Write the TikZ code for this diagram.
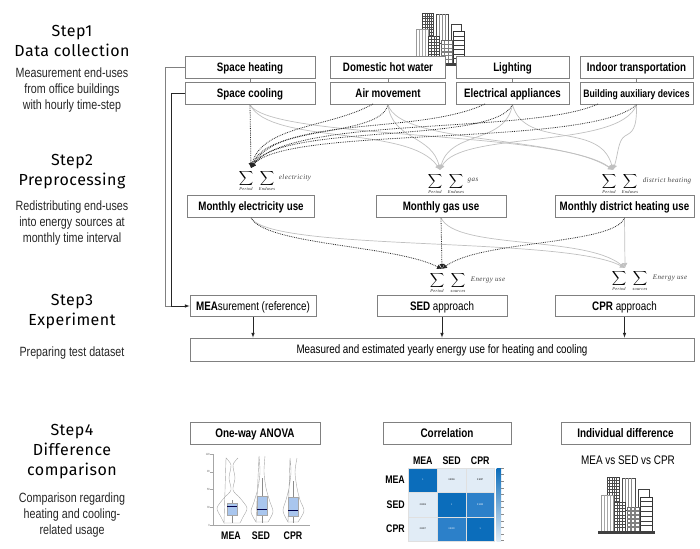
\documentclass[tikz,border=0pt]{standalone}
\usetikzlibrary{arrows.meta}
\usepackage{fontspec}
\setmainfont[FakeStretch=0.8]{Liberation Sans}
\newfontfamily\stepfont[LetterSpace=3]{Fira Sans}
\newfontfamily\sumfont[LetterSpace=6]{Liberation Serif}
\definecolor{edgegray}{HTML}{808080}
\definecolor{lightline}{HTML}{C0C0C0}
\definecolor{cellA}{HTML}{0B6DBB}
\definecolor{cellB}{HTML}{E1ECF6}
\definecolor{cellC}{HTML}{2C80C9}
\definecolor{boxblue}{HTML}{A9C6EE}
\tikzset{
  stepbox/.style={draw=edgegray,line width=0.9pt,fill=white,inner sep=0pt,minimum height=21.5pt,text height=8.5pt,text depth=0.5pt},
  headtext/.style={align=center,inner sep=0pt,font=\stepfont\fontsize{16}{20}\selectfont},
  bodytext/.style={align=center,inner sep=0pt,text=black!85,font=\fontsize{13.4}{16}\selectfont},
  darkcurve/.style={densely dotted,line width=0.8pt,black!85,-{Latex[length=5pt,width=5pt]}},
  palecurve/.style={lightline,line width=0.7pt,-{Latex[length=5pt,width=5pt]}},
  plainarrow/.style={black!85,line width=0.6pt,-latex},
  sumsign/.style={inner sep=0pt,font=\fontsize{10}{10}\selectfont},
  sumsmall/.style={inner sep=0pt,text=black!85,font=\sumfont\itshape\fontsize{4.4}{5}\selectfont},
  sumname/.style={inner sep=0pt,text=black!75,font=\sumfont\itshape\fontsize{7}{7}\selectfont},
  violin/.style={draw=black!35,line width=0.4pt},
  cell/.style={inner sep=0pt,minimum width=28.6pt,minimum height=24.4pt,draw=black!12,line width=0.3pt,font=\fontsize{2.5}{3}\selectfont},
  plotlabel/.style={inner sep=0pt,font=\bfseries\fontsize{11}{11}\selectfont},
  city/.pic={
    % back row
    \draw[black!75,fill=white,line width=0.8pt] (9.3,-57) rectangle (21,-32);
    \foreach \i in {1,...,4} {\draw[black!70,line width=0.5pt] (9.3+2.3*\i,-57) -- (9.3+2.3*\i,-32);}
    \foreach \i in {1,...,8} {\draw[black!70,line width=0.5pt] (9.3,-57+3*\i) -- (21,-57+3*\i);}
    \draw[black!70,fill=white,line width=0.8pt] (24,-56) rectangle (37,-24);
    \foreach \i in {1,...,3} {\draw[black!45,line width=0.7pt] (24+3.2*\i,-56) -- (24+3.2*\i,-24);}
    \draw[black!75,fill=white,line width=1pt] (40,-45) rectangle (51,-24);
    % front row
    \draw[black!40,fill=white,line width=0.8pt] (3,-39) rectangle (15,-3);
    \foreach \i in {1,...,3} {\draw[black!35,line width=0.7pt] (3+3*\i,-39) -- (3+3*\i,-3);}
    \draw[black!75,fill=white,line width=0.8pt] (16,-32) rectangle (27,-3);
    \foreach \i in {1,...,3} {\draw[black!70,line width=0.6pt] (16+2.8*\i,-32) -- (16+2.8*\i,-3);}
    \foreach \i in {1,...,8} {\draw[black!70,line width=0.6pt] (16,-32+3.2*\i) -- (27,-32+3.2*\i);}
    \draw[black!60,fill=white,line width=0.8pt] (29,-27) rectangle (41,-3);
    \foreach \i in {1,...,2} {\draw[black!50,line width=1.2pt] (29+4*\i,-27) -- (29+4*\i,-3);}
    \foreach \i in {1,...,5} {\draw[black!50,line width=1.2pt] (29,-27+4*\i) -- (41,-27+4*\i);}
    \draw[black!80,fill=white,line width=0.9pt] (42,-37) rectangle (54,-3);
    \foreach \i in {1,...,6} {\draw[black!75,line width=0.8pt] (42,-37+4.8*\i) -- (54,-37+4.8*\i);}
    \fill[black!75] (0,-3) rectangle (57,0);
  }
}
\begin{document}
\begin{tikzpicture}[x=1pt,y=-1pt]
\useasboundingbox (0,0) rectangle (700,548);
\pic[scale=0.93] (cityTop) at (414,66) {city};
% left column
\node[headtext] (head1) at (72,41) {Step1\\Data collection};
\node[bodytext] (body1) at (72,90) {Measurement end-uses\\from office buildings\\with hourly time-step};
\node[headtext] (head2) at (72,172) {Step2\\Preprocessing};
\node[bodytext] (body2) at (72,223) {Redistributing end-uses\\into energy sources at\\monthly time interval};
\node[headtext] (head3) at (72,312) {Step3\\Experiment};
\node[bodytext] (body3) at (72,353) {Preparing test dataset};
\node[headtext] (head4) at (72,452) {Step4\\Difference\\comparison};
\node[bodytext] (body4) at (72,515) {Comparison regarding\\heating and cooling-\\related usage};
% end-use boxes
\foreach \n/\x/\y/\w/\t in {heat/250/67.5/130/Space heating,cool/250/93.5/130/Space cooling,water/388/67.5/115/Domestic hot water,air/388/93.5/115/Air movement,light/512.5/67.5/113/Lighting,appl/512.5/93.5/113/Electrical appliances,lift/636.5/67.5/113/Indoor transportation,aux/636.5/93.5/113/{\fontsize{10.8}{12}\selectfont Building auxiliary devices}} {
  \node[stepbox,minimum width=\w pt,font=\bfseries\fontsize{12.2}{12}\selectfont] (\n) at (\x,\y) {\t};
}
\foreach \a/\b in {heat/cool,water/air,light/appl,lift/aux} {
  \draw[edgegray,line width=0.5pt] (\a) -- (\b);
}
% monthly boxes
\foreach \n/\x/\w/\t in {melec/251/127/Monthly electricity use,mgas/441/130/Monthly gas use,mdist/624.5/139/Monthly district heating use} {
  \node[stepbox,minimum width=\w pt,font=\bfseries\fontsize{12.2}{12}\selectfont] (\n) at (\x,206.5) {\t};
}
% experiment boxes
\node[stepbox,minimum width=126pt,font=\fontsize{12.3}{12}\selectfont] (mea) at (253,306) {\textbf{MEA}surement (reference)};
\node[stepbox,minimum width=130pt,font=\fontsize{12.3}{12}\selectfont] (sed) at (442,306) {\textbf{SED} approach};
\node[stepbox,minimum width=139pt,font=\fontsize{12.3}{12}\selectfont] (cpr) at (624.5,306) {\textbf{CPR} approach};
\node[stepbox,minimum width=504pt,minimum height=23pt,font=\fontsize{12.3}{12}\selectfont] (yearly) at (442,349.5) {Measured and estimated yearly energy use for heating and cooling};
% sums
\foreach \n/\x/\y/\a/\b/\t/\tx in {sumE/246/178/Period/Enduses/electricity/295,sumG/435/181/Period/Enduses/gas/473,sumD/609/181/Period/Enduses/district heating/667,sumS/437/280/Period/sources/Energy use/488,sumC/619/278/Period/sources/Energy use/670} {
  \node[sumsign] (\n a) at (\x,\y) {$\displaystyle\sum$};
  \node[sumsign] (\n b) at (\x+21,\y) {$\displaystyle\sum$};
  \node[sumsmall] (\n p) at (\x,\y+11) {\a};
  \node[sumsmall] (\n q) at (\x+21,\y+11) {\b};
  \node[sumname] (\n t) at (\tx,\y) {\t};
}
\coordinate (inE) at (251,168);
\coordinate (inG) at (440,170);
\coordinate (inD) at (613,170);
\coordinate (inS) at (442,269);
\coordinate (inC) at (625,268);
\coordinate (airL) at (373,104);
\coordinate (applL) at (485,104);
\coordinate (auxL) at (598,104);
\coordinate (auxK) at (625,136);
% pale curves to gas and district heating
\draw[palecurve] (cool.south) .. controls (270,145) and (410,125) .. (inG);
\draw[palecurve] (air.south) .. controls (392,140) and (432,135) .. (inG);
\draw[palecurve] (appl.south) .. controls (505,145) and (450,130) .. (inG);
\draw[palecurve] (aux.south) .. controls (620,150) and (460,130) .. (inG);
\draw[palecurve] (cool.south) .. controls (270,140) and (560,130) .. (inD);
\draw[palecurve] (air.south) .. controls (400,145) and (560,135) .. (inD);
\draw[palecurve] (appl.south) .. controls (525,150) and (600,120) .. (inD);
\draw[palecurve] (aux.south) .. controls (637,130) and (632,132) .. (auxK) .. controls (618,140) and (618,155) .. (inD);
% dark curves to electricity
\draw[darkcurve] (cool.south) -- (inE);
\draw[darkcurve] (airL) .. controls (330,128) and (262,125) .. (inE);
\draw[darkcurve] (air.south) .. controls (380,138) and (268,124) .. (inE);
\draw[darkcurve] (applL) .. controls (420,135) and (280,115) .. (inE);
\draw[darkcurve] (appl.south) .. controls (493,145) and (280,122) .. (inE);
\draw[darkcurve] (auxL) .. controls (530,135) and (290,115) .. (inE);
\draw[darkcurve] (aux.south) .. controls (590,148) and (285,125) .. (inE);
% monthly to approaches
\draw[palecurve] (melec.south) .. controls (270,252) and (565,236) .. (inC);
\draw[palecurve] (mgas.south) .. controls (455,250) and (585,235) .. (inC);
\draw[palecurve] (mdist.south) -- (inC);
\draw[darkcurve] (melec.south) .. controls (265,245) and (395,245) .. (inS);
\draw[darkcurve] (mgas.south) -- (inS);
\draw[darkcurve] (mdist.south) .. controls (615,245) and (480,240) .. (inS);
% measured lines
\draw[edgegray,line width=0.7pt] (heat.west) -- (165,67.5) -- (165,306) -- (171,306);
\draw[plainarrow] (cool.west) -- (171,93.5) -- (171,306) -- (mea.west);
\foreach \a in {mea,sed,cpr} {
  \draw[plainarrow] (\a.south) -- (\a.south |- yearly.north);
}
% comparison boxes
\foreach \n/\x/\w/\t in {anova/255/130/One-way ANOVA,corr/447/128/Correlation,indiv/625.5/129/Individual difference} {
  \node[stepbox,minimum width=\w pt,font=\bfseries\fontsize{12.4}{12}\selectfont] (\n) at (\x,433.5) {\t};
}
\node[inner sep=0pt,font=\fontsize{12.4}{12}\selectfont] (versus) at (628,460) {MEA vs SED vs CPR};
\pic (cityLow) at (598,534) {city};
% violin plot
\draw[black!35,line width=0.4pt] (213,454) -- (213,525) -- (310,525);
\foreach \v/\y in {120/454,90/471.7,60/489.3,30/507,0/525} {
  \node[inner sep=0pt,anchor=east,text=black!60,font=\fontsize{3}{3}\selectfont] (tick\v) at (210,\y) {\v};
  \draw[black!35,line width=0.3pt] (tick\v.east) -- (213,\y);
}
\draw[violin] plot[smooth] coordinates {(238,458) (233,465) (235,478) (233,490) (240,498) (247,508) (243,517) (240,523)} -- (224,523) plot[smooth] coordinates {(224,523) (221,517) (217,508) (224,498) (231,490) (229,478) (231,465) (226,458)} -- cycle;
\draw[violin] plot[smooth] coordinates {(265,456) (264,472) (266,488) (270,502) (273,512) (268,522)} -- (256,522) plot[smooth] coordinates {(256,522) (251,512) (254,502) (258,488) (260,472) (259,456)} -- cycle;
\draw[violin] plot[smooth] coordinates {(297,458) (295,472) (297,488) (300,500) (304,511) (298,522)} -- (288,522) plot[smooth] coordinates {(288,522) (283,511) (286,500) (289,488) (291,472) (290,458)} -- cycle;
\foreach \x/\t/\b/\m/\w in {232/503/515/506/500,262/496/515/509/478,293/497/516/510/481} {
  \draw[black!45,line width=0.3pt] (\x,\w) -- (\x,523);
  \draw[black!35,fill=boxblue,line width=0.3pt] (\x-4.7,\t) rectangle (\x+4.7,\b);
  \draw[blue!30!black,line width=0.7pt] (\x-4.7,\m) -- (\x+4.7,\m);
}
\foreach \x/\t in {231/MEA,261/SED,293/CPR} {
  \node[plotlabel] (vio\t) at (\x,536) {\t};
}
% heat map
\foreach \c/\x/\t in {1/422.8/MEA,2/451.6/SED,3/480.2/CPR} {
  \node[plotlabel] (col\c) at (\x,461) {\t};
}
\foreach \r/\y/\t in {1/480/MEA,2/504.5/SED,3/529/CPR} {
  \node[plotlabel,anchor=east] (row\r) at (405,\y) {\t};
}
\foreach \r/\c/\x/\y/\f/\v/\k in {1/1/422.8/480/cellA/1/white,1/2/451.6/480/cellB/0.9006/black,1/3/480.2/480/cellB/0.9007/black,2/1/422.8/504.5/cellB/0.9006/black,2/2/451.6/504.5/cellA/1/white,2/3/480.2/504.5/cellC/0.9330/white,3/1/422.8/529/cellB/0.9007/black,3/2/451.6/529/cellC/0.9330/white,3/3/480.2/529/cellA/1/white} {
  \node[cell,fill=\f,text=\k] (cell\r\c) at (\x,\y) {\v};
}
\shade[top color=cellA,bottom color=cellB] (496.5,468) rectangle (501,541);
\foreach \i in {0,...,11} {
  \draw[black!45,line width=0.25pt] (501,468+6.6*\i) -- (503.5,468+6.6*\i);
}
\end{tikzpicture}
\end{document}
